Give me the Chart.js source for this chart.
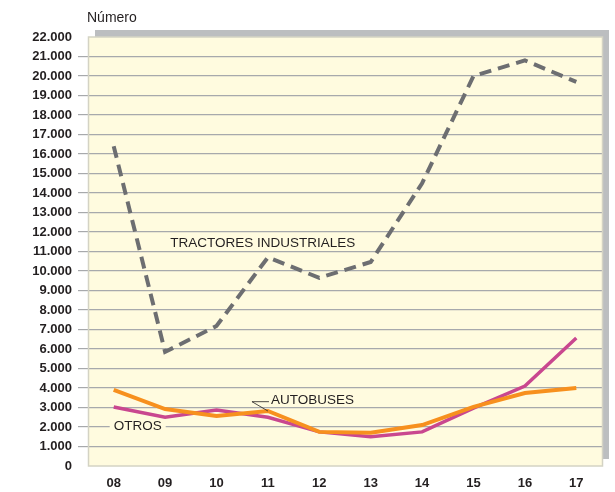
<!DOCTYPE html>
<html>
<head>
<meta charset="utf-8">
<script src="https://cdn.jsdelivr.net/npm/chart.js@4.4.0/dist/chart.umd.min.js"></script>
<style>
  html, body { margin: 0; padding: 0; background: #fff; }
  #wrap { width: 615px; height: 492px; position: relative; }
</style>
</head>
<body>
<div id="wrap"><canvas id="grafico" width="615" height="492"></canvas></div>
<script>
// Datos (número de vehículos)
const anios = ["08", "09", "10", "11", "12", "13", "14", "15", "16", "17"];
const tractores = [16400, 5850, 7180, 10700, 9650, 10460, 14500, 20000, 20800, 19700];
const autobuses = [3900, 2920, 2560, 2820, 1750, 1700, 2100, 3030, 3740, 4000];
const otros = [3030, 2500, 2870, 2500, 1750, 1500, 1750, 2970, 4100, 6560];
const yMax = 22000;
const yPaso = 1000;

const FUENTE = "'Liberation Sans', Arial, Helvetica, sans-serif";

// fondo amarillo con sombra gris + etiquetas de las series
const panelPlugin = {
  id: "panel",
  beforeDraw(chart) {
    const { ctx, chartArea: a } = chart;
    ctx.save();
    ctx.fillStyle = "#bcbec0";
    ctx.fillRect(a.left + 7, a.top - 7, a.right - a.left, a.bottom - a.top);
    ctx.fillStyle = "#fffbdf";
    ctx.fillRect(a.left, a.top, a.right - a.left, a.bottom - a.top);
    ctx.restore();
  },
  afterDatasetsDraw(chart) {
    const { ctx, chartArea: a, scales } = chart;
    const x = scales.x, y = scales.y;
    ctx.save();
    // borde del panel
    ctx.strokeStyle = "#d4d3c4";
    ctx.lineWidth = 1.5;
    ctx.strokeRect(a.left + 0.5, a.top, a.right - a.left, a.bottom - a.top);

    ctx.font = "13.5px " + FUENTE;
    ctx.fillStyle = "#231f20";
    ctx.textBaseline = "middle";
    ctx.textAlign = "left";

    ctx.fillText("TRACTORES INDUSTRIALES", x.getPixelForValue(1.1), y.getPixelForValue(11400));

    // OTROS con fondo que corta la línea de rejilla
    const ox = x.getPixelForValue(0), oy = y.getPixelForValue(2050);
    const w = ctx.measureText("OTROS").width;
    ctx.fillStyle = "#fffbdf";
    ctx.fillRect(ox - 4, oy - 7, w + 8, 14);
    ctx.fillStyle = "#231f20";
    ctx.fillText("OTROS", ox, oy);

    // AUTOBUSES con línea guía
    const ax = x.getPixelForValue(3.06), ay = y.getPixelForValue(3350);
    ctx.fillText("AUTOBUSES", ax, ay);
    ctx.strokeStyle = "#231f20";
    ctx.lineWidth = 0.8;
    ctx.beginPath();
    ctx.moveTo(ax - 2, ay + 1);
    ctx.lineTo(ax - 19, ay + 1);
    ctx.lineTo(x.getPixelForValue(3), y.getPixelForValue(2820));
    ctx.stroke();

    // título del eje
    ctx.font = "14px " + FUENTE;
    ctx.fillText("Número", a.left - 1, a.top - 19);
    ctx.restore();
  }
};

new Chart(document.getElementById("grafico"), {
  type: "line",
  data: {
    labels: anios,
    datasets: [
      {
        label: "TRACTORES INDUSTRIALES",
        data: tractores,
        borderColor: "#6d6e71",
        borderWidth: 4,
        borderDash: [12, 7],
        pointRadius: 0,
        tension: 0,
        order: 1
      },
      {
        label: "AUTOBUSES",
        data: autobuses,
        borderColor: "#f7901e",
        borderWidth: 4,
        pointRadius: 0,
        tension: 0,
        order: 2
      },
      {
        label: "OTROS",
        data: otros,
        borderColor: "#c9478f",
        borderWidth: 3.5,
        pointRadius: 0,
        tension: 0,
        order: 3
      }
    ]
  },
  options: {
    responsive: false,
    animation: false,
    layout: { padding: { top: 37, right: 13, left: 0, bottom: 0 } },
    plugins: {
      legend: { display: false },
      tooltip: { enabled: false }
    },
    scales: {
      x: {
        offset: true,
        grid: { display: false },
        border: { display: false },
        ticks: {
          color: "#231f20",
          font: { family: FUENTE, size: 13, weight: "bold" },
          padding: 2
        },
        afterFit(scale) { scale.height = 26; }
      },
      y: {
        min: 0,
        max: yMax,
        ticks: {
          stepSize: yPaso,
          color: "#231f20",
          font: { family: FUENTE, size: 13, weight: "bold" },
          padding: 6,
          callback: (v) => v.toLocaleString("de-DE")
        },
        grid: {
          color: (c) => (c.tick && (c.tick.value === 0 || c.tick.value === yMax)) ? "rgba(0,0,0,0)" : "#a7a9ac",
          lineWidth: 1.2,
          tickLength: 10,
          drawOnChartArea: true
        },
        border: { display: false },
        afterFit(scale) { scale.width = 88; }
      }
    }
  },
  plugins: [panelPlugin]
});
</script>
</body>
</html>
